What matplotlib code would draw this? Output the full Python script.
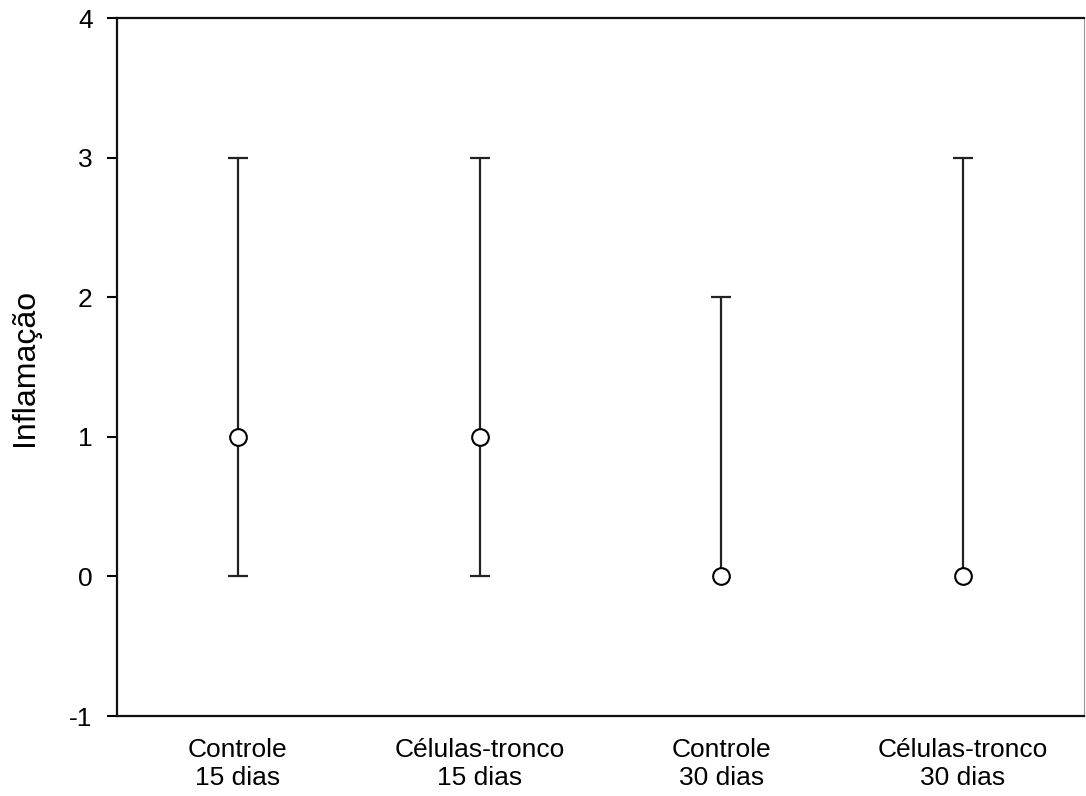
import matplotlib
matplotlib.use("Agg")
import matplotlib.pyplot as plt
import numpy as np

plt.rcParams['font.family'] = ['Liberation Sans', 'DejaVu Sans']

categories = ["Controle\n15 dias", "Células-tronco\n15 dias", "Controle\n30 dias", "Células-tronco\n30 dias"]
medians = [1, 1, 0, 0]
lowers = [0, 0, 0, 0]
uppers = [3, 3, 2, 3]
yticks = [-1, 0, 1, 2, 3, 4]

fig = plt.figure(figsize=(10.86, 7.96), dpi=100)
ax = fig.add_axes([0.1077, 0.1005, 0.8903, 0.8763])

x = np.arange(1, len(categories) + 1)
med = np.array(medians)
lo = np.array(lowers)
hi = np.array(uppers)

ax.vlines(x, lo, hi, color='#222222', lw=1.6, zorder=2)
# caps only where the whisker extends beyond the median
mask_lo = lo < med
mask_hi = hi > med
ax.plot(x[mask_lo], lo[mask_lo], ls='none', marker='_', ms=14.5, mew=1.6, color='#222222', zorder=2)
ax.plot(x[mask_hi], hi[mask_hi], ls='none', marker='_', ms=14.5, mew=1.6, color='#222222', zorder=2)
ax.plot(x, med, ls='none', marker='o', ms=12, mfc='white', mec='black', mew=1.5, zorder=3)

ax.set_xlim(0.5, 4.5)
ax.set_ylim(-1, 4)
ax.set_yticks(yticks)
ax.set_yticklabels([str(t) for t in yticks])
ax.set_xticks(x)
ax.set_xticklabels(categories, fontsize=19, linespacing=1.2)
ax.tick_params(axis='x', length=0, pad=16)
ax.tick_params(axis='y', direction='out', length=7.5, width=1.5, pad=10, labelsize=19)
ax.set_ylabel("Inflamação", fontsize=23, labelpad=21)

for s in ['left', 'bottom', 'top']:
    ax.spines[s].set_linewidth(1.6)
    ax.spines[s].set_color('#111111')
ax.spines['right'].set_linewidth(0.8)
ax.spines['right'].set_color('#999999')

fig.savefig("out.png", dpi=100)
